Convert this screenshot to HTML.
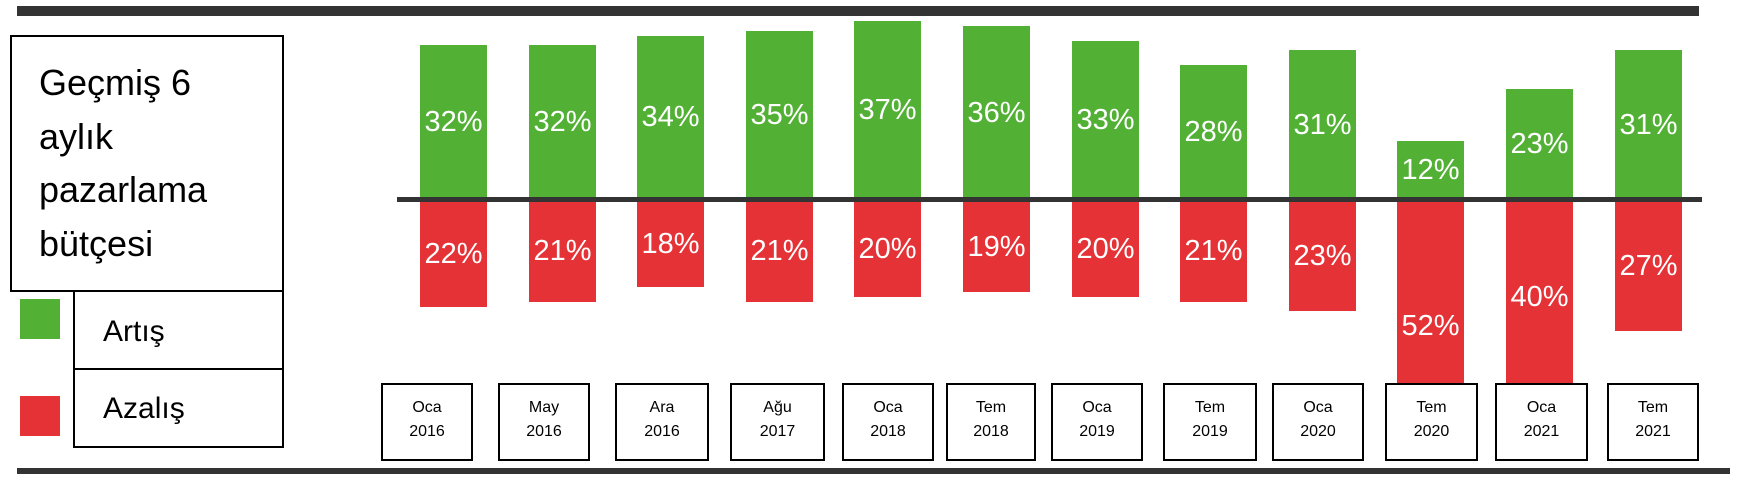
<!DOCTYPE html>
<html><head><meta charset="utf-8"><style>
html,body{margin:0;padding:0;background:#fff;}
body{width:1752px;height:478px;position:relative;overflow:hidden;font-family:"Liberation Sans",sans-serif;}
.a{position:absolute;}
.bar{position:absolute;width:67px;}
.g{background:#52b135;}
.r{background:#e53236;}
.lbl{position:absolute;width:67px;text-align:center;color:#fff;font-size:29px;line-height:30px;margin-top:-15px;}
.box{position:absolute;top:383px;height:74px;border:2px solid #000;background:#fff;text-align:center;font-size:16px;line-height:24px;padding-top:11px;box-sizing:content-box;}
</style></head><body>
<div class="a" style="left:17px;top:6px;width:1682px;height:10px;background:#333;"></div>
<div class="a" style="left:17px;top:468px;width:1713px;height:6px;background:#333;"></div>

<div class="a" style="left:10px;top:35px;width:270px;height:253px;border:2px solid #000;"></div>
<div class="a" style="left:39px;top:56px;font-size:36px;line-height:53.7px;color:#000;">Geçmiş 6<br>aylık<br>pazarlama<br>bütçesi</div>
<div class="a" style="left:73px;top:290px;width:207px;height:156px;border:2px solid #000;border-top:none;"></div>
<div class="a" style="left:73px;top:368px;width:211px;height:2px;background:#000;"></div>
<div class="a" style="left:103px;top:314px;font-size:30px;line-height:36px;">Artış</div>
<div class="a" style="left:103px;top:391px;font-size:30px;line-height:36px;">Azalış</div>
<div class="a g" style="left:20px;top:299px;width:40px;height:40px;"></div>
<div class="a r" style="left:20px;top:396px;width:40px;height:40px;"></div>

<div id="bars"></div>
<div class="a" style="left:397px;top:197px;width:1305px;height:5px;background:#333;"></div>
<div id="boxes"></div>
<script>
var up=[32,32,34,35,37,36,33,28,31,12,23,31],dn=[22,21,18,21,20,19,20,21,23,52,40,27];
var h='';
for(var i=0;i<12;i++){
 var x=Math.round(420+i*108.6), t=199-up[i]*4.8, b=201+dn[i]*4.8;
 h+='<div class="bar g" style="left:'+x+'px;top:'+t+'px;height:'+(199-t)+'px"></div>';
 h+='<div class="bar r" style="left:'+x+'px;top:201px;height:'+(b-201)+'px"></div>';
 h+='<div class="lbl" style="left:'+x+'px;top:'+((t+199)/2)+'px">'+up[i]+'%</div>';
 h+='<div class="lbl" style="left:'+x+'px;top:'+((201+b)/2)+'px">'+dn[i]+'%</div>';
}
document.getElementById('bars').innerHTML=h;
var bx=[[381,92],[498,92],[615,94],[730,95],[842,92],[946,90],[1051,92],[1163,94],[1272,92],[1385,93],[1495,93],[1607,92]];
var tx=[['Oca','2016'],['May','2016'],['Ara','2016'],['Ağu','2017'],['Oca','2018'],['Tem','2018'],['Oca','2019'],['Tem','2019'],['Oca','2020'],['Tem','2020'],['Oca','2021'],['Tem','2021']];
var k='';
for(var j=0;j<12;j++){
 k+='<div class="box" style="left:'+bx[j][0]+'px;width:'+(bx[j][1]-4)+'px;height:'+(74-11)+'px">'+tx[j][0]+'<br>'+tx[j][1]+'</div>';
}
document.getElementById('boxes').innerHTML=k;
</script>
</body></html>
